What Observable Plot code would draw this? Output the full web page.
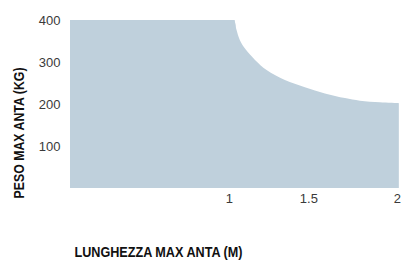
<!DOCTYPE html>
<html><head><meta charset="utf-8">
<script src="https://cdn.jsdelivr.net/npm/d3@7"></script>
<script src="https://cdn.jsdelivr.net/npm/@observablehq/plot@0.6"></script>
<style>body{margin:0;background:#fff;} svg{display:block;}</style>
</head><body><div id="chart"></div>
<script>
// max leaf length (m) vs max leaf weight (kg)
const lengths = [0, 1.036, 1.041, 1.048, 1.069, 1.107, 1.164, 1.237, 1.352, 1.478, 1.604, 1.730, 1.824, 1.950, 2.069];
const weights = [400, 400, 388, 376, 352, 329, 305, 281, 257, 240, 225, 214, 208, 204, 202];
const xTicks = [1, 1.5];
const xLastTick = [2];
const yTicks = [100, 200, 300, 400];
const yTitle = "PESO MAX ANTA (KG)";
const xTitle = "LUNGHEZZA MAX ANTA (M)";

const data = lengths.map((x, i) => ({x, y: weights[i]}));
const flat = data.slice(0, 3);   // flat top plus a short overlap into the curve (hides the seam)
const curved = data.slice(1);
const titleFont = "'Liberation Sans', Arial, sans-serif";
const fmt = d => String(d);

const chart = Plot.plot({
  width: 401, height: 266,
  marginLeft: 70, marginRight: 2, marginTop: 20, marginBottom: 78,
  style: {fontFamily: "'Liberation Sans', Arial, sans-serif", fontSize: "13px", color: "#3a3a3a", background: "#fff", overflow: "visible"},
  x: {domain: [0, 2.07]},
  y: {domain: [0, 400]},
  marks: [
    Plot.areaY(flat, {x: "x", y: "y", fill: "#bfd0dc"}),
    Plot.areaY(curved, {x: "x", y: "y", fill: "#bfd0dc", curve: "catmull-rom"}),
    Plot.axisX(xTicks, {tickSize: 0, tickPadding: 5, label: null, tickFormat: fmt, fill: "#3a3a3a"}),
    Plot.axisX(xLastTick, {tickSize: 0, tickPadding: 5, label: null, tickFormat: fmt, dx: 9, fill: "#3a3a3a"}),
    Plot.axisY(yTicks, {tickSize: 0, tickPadding: 10, label: null, tickFormat: fmt, fill: "#3a3a3a"}),
    Plot.text([yTitle], {frameAnchor: "left", rotate: -90, textAnchor: "start", dx: -51.3, dy: 94, fontWeight: "bold", fontSize: 15, fontFamily: titleFont, fill: "#111", className: "ytitle"}),
    Plot.text([xTitle], {frameAnchor: "bottom-left", textAnchor: "start", dx: 4, dy: 68, fontWeight: "bold", fontSize: 15, fontFamily: titleFont, fill: "#111", className: "xtitle"})
  ]
});
// condense the bold titles to the narrow width of the reference
chart.querySelectorAll(".ytitle text").forEach(t => { t.setAttribute("textLength", 131); t.setAttribute("lengthAdjust", "spacingAndGlyphs"); });
chart.querySelectorAll(".xtitle text").forEach(t => { t.setAttribute("textLength", 168); t.setAttribute("lengthAdjust", "spacingAndGlyphs"); });
document.getElementById("chart").append(chart);
</script>
</body></html>
